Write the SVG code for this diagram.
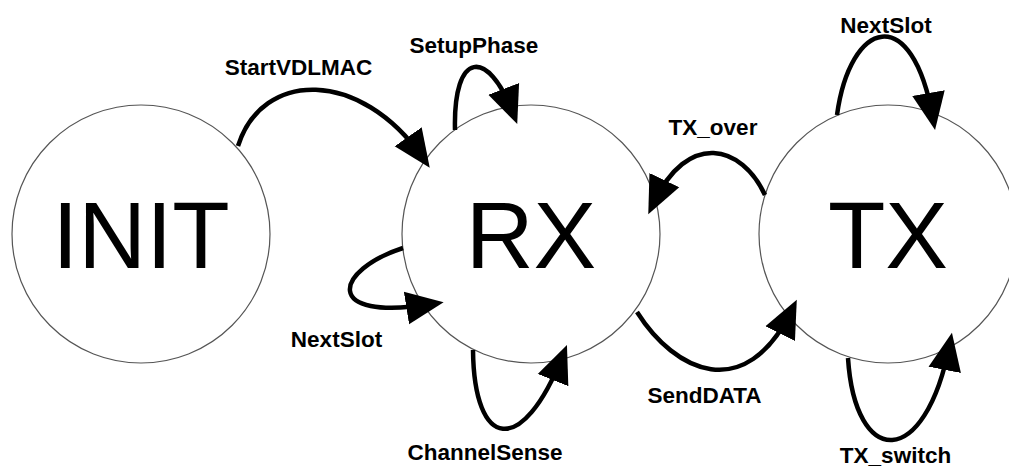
<svg xmlns="http://www.w3.org/2000/svg" width="1009" height="466" viewBox="0 0 1009 466">
  <style>
    .state { fill: #ffffff; stroke: #555555; stroke-width: 1.2; }
    .state-name { font-family: "Liberation Sans", Arial, sans-serif; font-size: 94px; fill: #000000; text-anchor: middle; }
    .edge { fill: none; stroke: #000000; stroke-width: 4.5; marker-end: url(#arrow); }
    .edge-label { font-family: "Liberation Sans", Arial, sans-serif; font-size: 22.5px; font-weight: bold; fill: #000000; text-anchor: middle; }
  </style>
  <defs>
    <marker id="arrow" markerUnits="userSpaceOnUse" markerWidth="40" markerHeight="40" viewBox="0 -16 34 32" refX="22" refY="0" orient="auto">
      <path d="M0,-14 L32,0 L0,14 z" fill="#000000"/>
    </marker>
  </defs>

  <rect width="1009" height="466" fill="#ffffff"/>

  <!-- states -->
  <g id="node-init">
    <circle class="state" cx="141" cy="234" r="129"/>
    <text class="state-name" x="141" y="268">INIT</text>
  </g>
  <g id="node-rx">
    <circle class="state" cx="531" cy="234" r="129"/>
    <text class="state-name" x="531" y="268">RX</text>
  </g>
  <g id="node-tx">
    <circle class="state" cx="888" cy="234" r="129"/>
    <text class="state-name" x="888" y="268">TX</text>
  </g>

  <!-- transitions -->
  <g id="connectors">
    <!-- INIT -> RX -->
    <path class="edge" d="M238,146 C262,70 360,68 423,158"/>
    <!-- RX self loop: SetupPhase -->
    <path class="edge" d="M455,130 C453,50 488,48 513,113"/>
    <!-- RX self loop: NextSlot -->
    <path class="edge" d="M403,248 C335,270 320,322 432,304"/>
    <!-- RX self loop: ChannelSense -->
    <path class="edge" d="M473,350 C474,450 522,458 562.6,356"/>
    <!-- TX -> RX -->
    <path class="edge" d="M765,195 C742,145 688,130 653.3,203.5"/>
    <!-- RX -> TX -->
    <path class="edge" d="M637,312 C675,372 745,405 791.6,310.4"/>
    <!-- TX self loop: NextSlot -->
    <path class="edge" d="M837,115 C850,20 912,0 933,118.5"/>
    <!-- TX self loop: TX_switch -->
    <path class="edge" d="M848,358 C855,468 925,471 949.7,344.4"/>
  </g>

  <g id="labels">
    <text class="edge-label" x="298.5" y="75">StartVDLMAC</text>
    <text class="edge-label" x="474" y="53">SetupPhase</text>
    <text class="edge-label" x="336.5" y="347">NextSlot</text>
    <text class="edge-label" x="485" y="460">ChannelSense</text>
    <text class="edge-label" x="713" y="135">TX_over</text>
    <text class="edge-label" x="886" y="33">NextSlot</text>
    <text class="edge-label" x="704.5" y="403">SendDATA</text>
    <text class="edge-label" x="895.5" y="463">TX_switch</text>
  </g>
</svg>
